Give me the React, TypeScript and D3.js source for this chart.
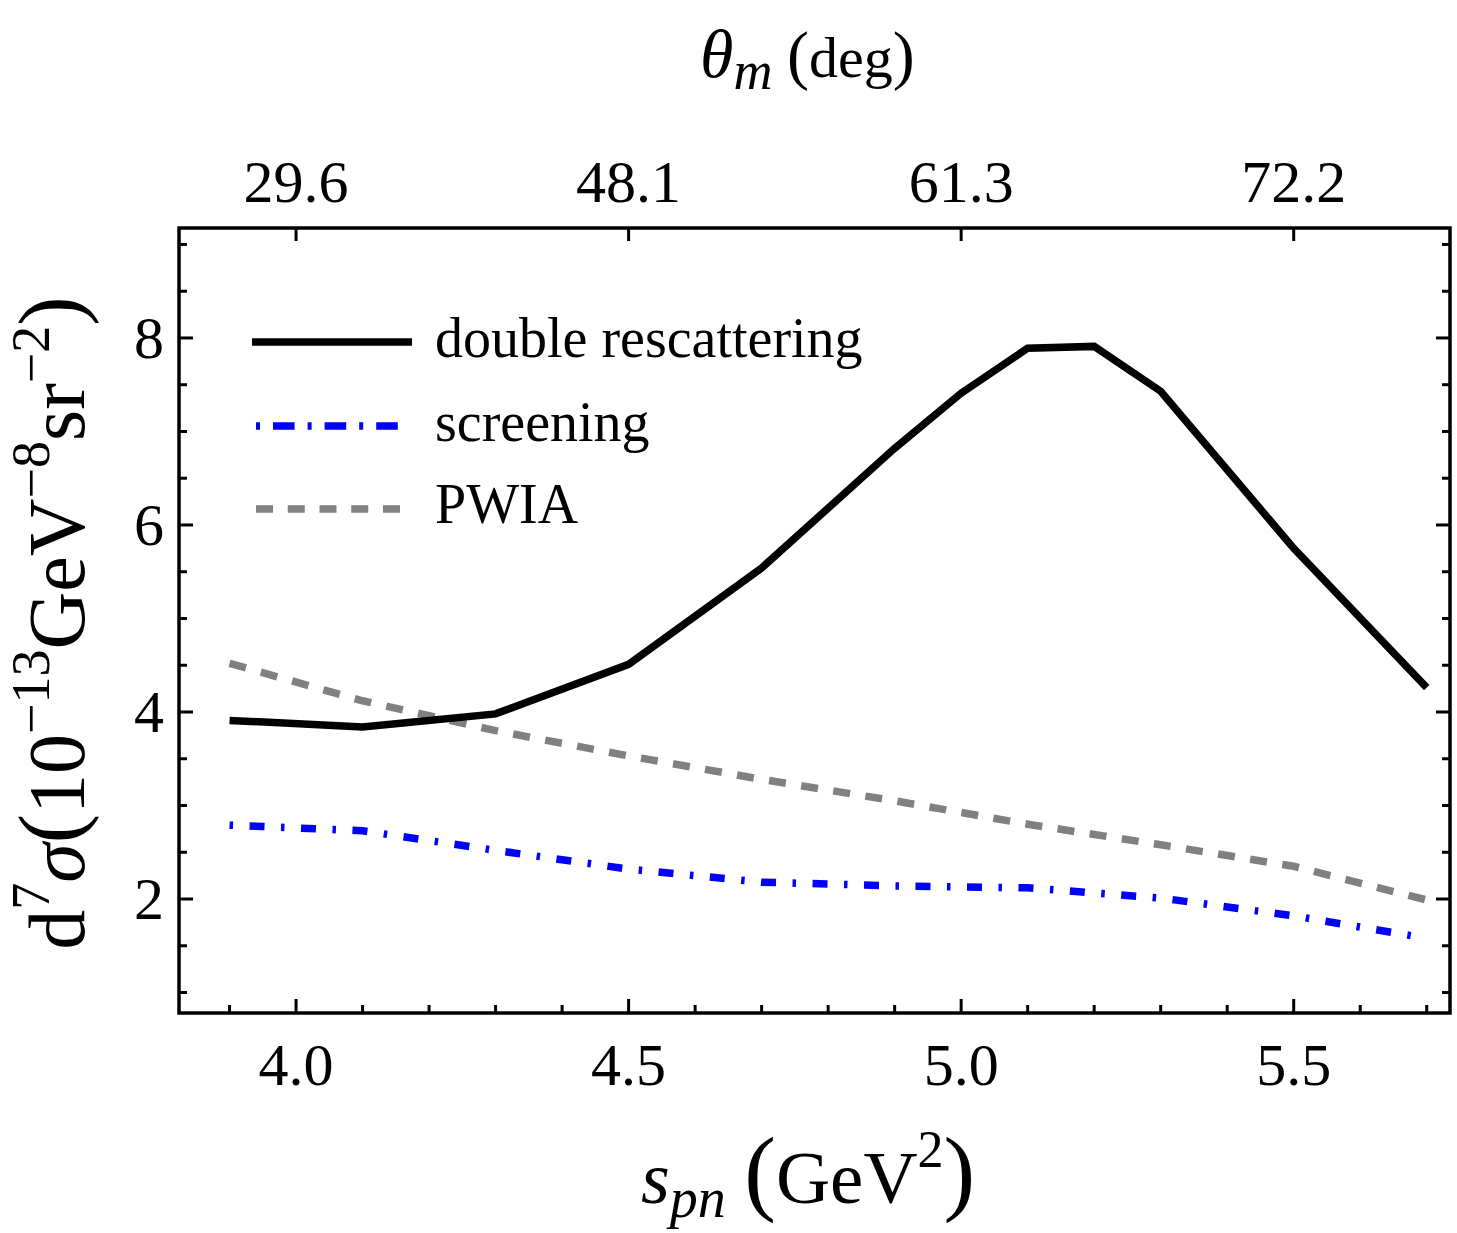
import React from "react";
import * as d3 from "d3";

// ---- data ----
const sDouble = [3.9, 4.1, 4.3, 4.5, 4.7, 4.9, 5.0, 5.1, 5.2, 5.3, 5.5, 5.7];
const doubleRescattering = [3.91, 3.84, 3.98, 4.51, 5.54, 6.82, 7.41, 7.89, 7.91, 7.43, 5.75, 4.26];
const sScreen = [3.9, 4.1, 4.3, 4.5, 4.7, 4.9, 5.1, 5.3, 5.5, 5.7];
const screening = [2.79, 2.73, 2.52, 2.32, 2.18, 2.14, 2.12, 2.01, 1.82, 1.58];
const sPwia = [3.9, 4.1, 4.3, 4.5, 4.7, 4.9, 5.1, 5.3, 5.5, 5.7];
const pwia = [4.52, 4.12, 3.8, 3.53, 3.28, 3.05, 2.8, 2.58, 2.35, 1.99];

const xMajorTicks = [4.0, 4.5, 5.0, 5.5];
const xTickLabels = ["4.0", "4.5", "5.0", "5.5"];
const yMajorTicks = [2, 4, 6, 8];
const yTickLabels = ["2", "4", "6", "8"];
const topTickPositions = [4.0, 4.5, 5.0, 5.5];
const topTickLabels = ["29.6", "48.1", "61.3", "72.2"];

const xDomain = [3.824, 5.735];
const yDomain = [0.781, 9.176];

const FONT = "'Liberation Serif', 'Times New Roman', serif";

export default function App() {
  const W = 1457;
  const H = 1233;
  const left = 179, right = 1450, top = 228, bottom = 1013;

  const x = d3.scaleLinear().domain(xDomain).range([left, right]);
  const y = d3.scaleLinear().domain(yDomain).range([bottom, top]);

  const line = d3
    .line<[number, number]>()
    .x((d) => x(d[0]))
    .y((d) => y(d[1]));

  const pts = (xs: number[], ys: number[]) => xs.map((v, i) => [v, ys[i]] as [number, number]);

  const xMinor = d3.range(39, 58, 1).map((v) => v / 10).filter((v) => !xMajorTicks.some((m) => Math.abs(m - v) < 1e-6));
  const yMinor = d3.range(2, 19, 1).map((v) => v / 2).filter((v) => !yMajorTicks.includes(v));

  const majorLen = 14;
  const minorLen = 8;
  const tickW = 3;

  const blueDash = "3.5 16.5 15 16.5";
  const grayDash = "17 15.5";

  return (
    <div style={{ position: "absolute", left: 0, top: 0, width: W, height: H, background: "#fff" }}>
      <svg width={W} height={H} viewBox={`0 0 ${W} ${H}`} style={{ display: "block" }}>
        <rect x={0} y={0} width={W} height={H} fill="#fff" />
        <defs>
          <clipPath id="plotClip">
            <rect x={left} y={top} width={right - left} height={bottom - top} />
          </clipPath>
        </defs>

        {/* curves */}
        <g clipPath="url(#plotClip)" fill="none">
          <path d={line(pts(sPwia, pwia)) || ""} stroke="#808080" strokeWidth={7.5} strokeDasharray={grayDash} />
          <path d={line(pts(sScreen, screening)) || ""} stroke="#0000ff" strokeWidth={7.5} strokeDasharray={blueDash} />
          <path d={line(pts(sDouble, doubleRescattering)) || ""} stroke="#000" strokeWidth={7.5} strokeLinejoin="miter" />
        </g>

        {/* ticks */}
        <g stroke="#000" strokeWidth={tickW}>
          {xMajorTicks.map((t) => (
            <line key={"xb" + t} x1={x(t)} x2={x(t)} y1={bottom} y2={bottom - majorLen} />
          ))}
          {xMinor.map((t) => (
            <line key={"xbm" + t} x1={x(t)} x2={x(t)} y1={bottom} y2={bottom - minorLen} />
          ))}
          {topTickPositions.map((t) => (
            <line key={"xt" + t} x1={x(t)} x2={x(t)} y1={top} y2={top + 13} />
          ))}
          {yMajorTicks.map((t) => (
            <g key={"y" + t}>
              <line x1={left} x2={left + majorLen} y1={y(t)} y2={y(t)} />
              <line x1={right} x2={right - majorLen} y1={y(t)} y2={y(t)} />
            </g>
          ))}
          {yMinor.map((t) => (
            <g key={"ym" + t}>
              <line x1={left} x2={left + minorLen} y1={y(t)} y2={y(t)} />
              <line x1={right} x2={right - minorLen} y1={y(t)} y2={y(t)} />
            </g>
          ))}
        </g>

        {/* frame */}
        <rect x={left} y={top} width={right - left} height={bottom - top} fill="none" stroke="#000" strokeWidth={3.5} />

        {/* tick labels */}
        <g fontFamily={FONT} fontSize={60} fill="#000">
          {xMajorTicks.map((t, i) => (
            <text key={"xl" + t} x={x(t)} y={1085} textAnchor="middle">
              {xTickLabels[i]}
            </text>
          ))}
          {topTickPositions.map((t, i) => (
            <text key={"tl" + t} x={x(t)} y={202} textAnchor="middle">
              {topTickLabels[i]}
            </text>
          ))}
          {yMajorTicks.map((t, i) => (
            <text key={"yl" + t} x={164} y={y(t) + 20} textAnchor="end">
              {yTickLabels[i]}
            </text>
          ))}
        </g>

        {/* legend */}
        <g>
          <line x1={252} x2={412} y1={342} y2={342} stroke="#000" strokeWidth={7.5} />
          <line x1={256} x2={398} y1={426} y2={426} stroke="#0000ff" strokeWidth={7.5} strokeDasharray="4 13 21.6 13" />
          <line x1={256} x2={400} y1={509} y2={509} stroke="#808080" strokeWidth={7.5} strokeDasharray="17 14.75" />
          <g fontFamily={FONT} fontSize={56} fill="#000">
            <text x={435} y={357}>double rescattering</text>
            <text x={435} y={441}>screening</text>
            <text x={435} y={523}>PWIA</text>
          </g>
        </g>

        {/* top axis title */}
        <text x={700} y={77} fontFamily={FONT} fill="#000">
          <tspan fontSize={68} fontStyle="italic">θ</tspan>
          <tspan fontSize={54} fontStyle="italic" dy={12}>m</tspan>
          <tspan fontSize={58} dy={-12}>{"  "}</tspan>
          <tspan fontSize={66}>(</tspan>
          <tspan fontSize={58}>deg</tspan>
          <tspan fontSize={66}>)</tspan>
        </text>

        {/* bottom axis title */}
        <text x={641} y={1203} fontFamily={FONT} fill="#000">
          <tspan fontSize={74} fontStyle="italic">s</tspan>
          <tspan fontSize={56} fontStyle="italic" dy={14}>pn</tspan>
          <tspan fontSize={74} dy={-14}>{" "}</tspan>
          <tspan fontSize={95}>(</tspan>
          <tspan fontSize={75}>GeV</tspan>
          <tspan fontSize={52} dy={-36}>2</tspan>
          <tspan fontSize={95} dy={36}>)</tspan>
        </text>

        {/* left axis title */}
        <text transform="translate(84,623) rotate(-90)" textAnchor="middle" fontFamily={FONT} fill="#000">
          <tspan fontSize={80}>d</tspan>
          <tspan fontSize={54} dy={-35}>7</tspan>
          <tspan fontSize={80} fontStyle="italic" dy={35}>σ</tspan>
          <tspan fontSize={88} dy={-4}>(</tspan>
          <tspan fontSize={80} dy={4}>10</tspan>
          <tspan fontSize={54} dy={-35}>−13</tspan>
          <tspan fontSize={80} dy={35}>GeV</tspan>
          <tspan fontSize={54} dy={-35}>−8</tspan>
          <tspan fontSize={80} dy={35}>sr</tspan>
          <tspan fontSize={54} dy={-35}>−2</tspan>
          <tspan fontSize={88} dy={31}>)</tspan>
        </text>
      </svg>
    </div>
  );
}
